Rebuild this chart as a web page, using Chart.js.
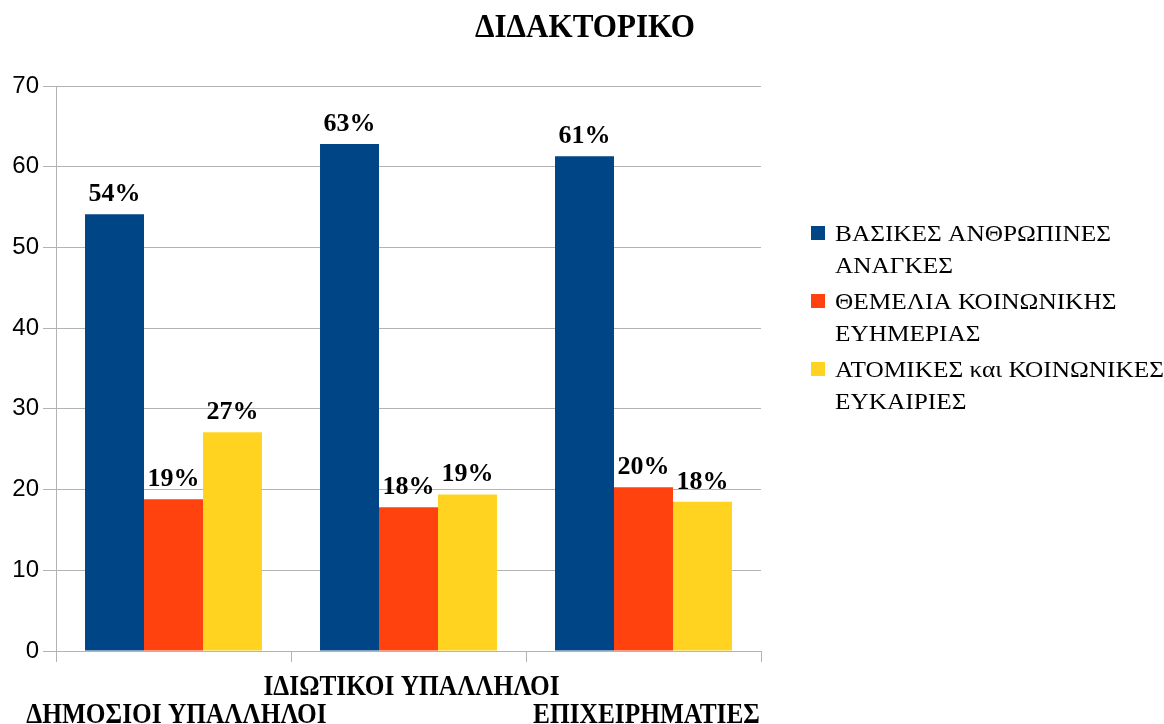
<!DOCTYPE html>
<html>
<head>
<meta charset="utf-8">
<script src="https://cdn.jsdelivr.net/npm/chart.js@4.4.0/dist/chart.umd.min.js"></script>
<style>
  html, body { margin: 0; padding: 0; background: #ffffff; }
  #wrap { width: 1164px; height: 724px; }
</style>
</head>
<body>
<div id="wrap"><canvas id="myChart" width="1164" height="724"></canvas></div>
<script>
// data
var chartTitle = 'ΔΙΔΑΚΤΟΡΙΚΟ';
var categories = ['ΔΗΜΟΣΙΟΙ ΥΠΑΛΛΗΛΟΙ', 'ΙΔΙΩΤΙΚΟΙ ΥΠΑΛΛΗΛΟΙ', 'ΕΠΙΧΕΙΡΗΜΑΤΙΕΣ'];
var seriesLines = [
    ['ΒΑΣΙΚΕΣ ΑΝΘΡΩΠΙΝΕΣ', 'ΑΝΑΓΚΕΣ'],
    ['ΘΕΜΕΛΙΑ ΚΟΙΝΩΝΙΚΗΣ', 'ΕΥΗΜΕΡΙΑΣ'],
    ['ΑΤΟΜΙΚΕΣ και ΚΟΙΝΩΝΙΚΕΣ', 'ΕΥΚΑΙΡΙΕΣ']
];
var basicNeeds = [54.1, 62.8, 61.3];
var welfare = [18.8, 17.8, 20.3];
var opportunities = [27.1, 19.4, 18.5];
var labelsBasic = ['54%', '63%', '61%'];
var labelsWelfare = ['19%', '18%', '20%'];
var labelsOpport = ['27%', '19%', '18%'];
var yTicks = [0, 10, 20, 30, 40, 50, 60, 70];

var colors = ['#004586', '#ff420e', '#ffd320'];
var gridColor = '#b3b3b3';
var serif = '"Liberation Serif", serif';

//-----------------

// draws text squeezed horizontally by a factor
function squeezed(ctx, text, x, y, k){
    ctx.save();
    ctx.translate(x, y);
    ctx.scale(k, 1);
    ctx.fillText(text, 0, 0);
    ctx.restore();
}

// plugin: title, staggered category names, value labels, legend
var extras = {
    id: 'extras',
    afterDraw: function(chart){
        var ctx = chart.ctx;
        var area = chart.chartArea;
        var x = chart.scales.x;

        ctx.save();
        ctx.fillStyle = '#000000';
        ctx.textBaseline = 'alphabetic';
        ctx.textAlign = 'center';

        // title
        ctx.font = 'bold 33px ' + serif;
        var kt = 220 / ctx.measureText(chartTitle).width;
        squeezed(ctx, chartTitle, 585, 37, kt);

        // category names, every other one lower
        ctx.font = 'bold 29px ' + serif;
        var kc = 296 / ctx.measureText(categories[1]).width;
        for (var i = 0; i < categories.length; i++) {
            var cy = (i % 2 == 1) ? area.bottom + 44 : area.bottom + 72;
            squeezed(ctx, categories[i], x.getPixelForValue(i) + 3, cy, kc);
        }

        // value labels above bars
        ctx.font = 'bold 26px ' + serif;
        chart.data.datasets.forEach(function(ds, d){
            var meta = chart.getDatasetMeta(d);
            meta.data.forEach(function(bar, j){
                ctx.fillText(ds.valueLabels[j], bar.x, bar.y - 13);
            });
        });

        // legend
        ctx.font = '24px ' + serif;
        ctx.textAlign = 'left';
        var kl = 276 / ctx.measureText(seriesLines[0][0]).width;
        var lx = area.right + 50;
        var ly = 233;
        chart.data.datasets.forEach(function(ds, d){
            ctx.fillStyle = ds.backgroundColor;
            ctx.fillRect(lx, ly - 7, 14, 14);
            ctx.fillStyle = '#000000';
            for (var k = 0; k < seriesLines[d].length; k++) {
                squeezed(ctx, seriesLines[d][k], lx + 24, ly + 8 + k * 32, kl);
            }
            ly += 68;
        });

        ctx.restore();
    }
};

var chart;

function makeChart(){
    var ctx = document.getElementById('myChart').getContext('2d');
    chart = new Chart(ctx, {
        type: 'bar',
        data: {
            labels: categories,
            datasets: [{
                label: seriesLines[0].join(' '),
                backgroundColor: colors[0],
                data: basicNeeds,
                valueLabels: labelsBasic
            }, {
                label: seriesLines[1].join(' '),
                backgroundColor: colors[1],
                data: welfare,
                valueLabels: labelsWelfare
            }, {
                label: seriesLines[2].join(' '),
                backgroundColor: colors[2],
                data: opportunities,
                valueLabels: labelsOpport
            }]
        },
        options: {
            responsive: false,
            animation: false,
            events: [],
            layout: { padding: { top: 86, right: 403, left: 0, bottom: 0 } },
            datasets: {
                bar: { categoryPercentage: 0.753, barPercentage: 1.0, borderWidth: 0 }
            },
            plugins: {
                legend: { display: false },
                title: { display: false },
                tooltip: { enabled: false }
            },
            scales: {
                x: {
                    offset: true,
                    grid: {
                        offset: true,
                        drawOnChartArea: false,
                        drawTicks: true,
                        tickLength: 11,
                        color: gridColor
                    },
                    border: { color: gridColor },
                    ticks: { display: false },
                    afterFit: function(scale){ scale.height = 73; }
                },
                y: {
                    min: 0,
                    max: 70,
                    afterBuildTicks: function(scale){
                        scale.ticks = yTicks.map(function(v){ return { value: v }; });
                    },
                    grid: { color: gridColor, tickLength: 13 },
                    border: { color: gridColor },
                    ticks: {
                        color: '#000000',
                        padding: 4,
                        font: { family: '"Liberation Sans"', size: 24 }
                    },
                    afterFit: function(scale){ scale.width = 56; }
                }
            }
        },
        plugins: [extras]
    });
}

// wait for the serif face before the single (non animated) draw
Promise.all([
    document.fonts.load('24px "Liberation Serif"', 'ΑΒΓ και'),
    document.fonts.load('bold 24px "Liberation Serif"', 'ΑΒΓ 54%')
]).then(makeChart, makeChart);
</script>
</body>
</html>
